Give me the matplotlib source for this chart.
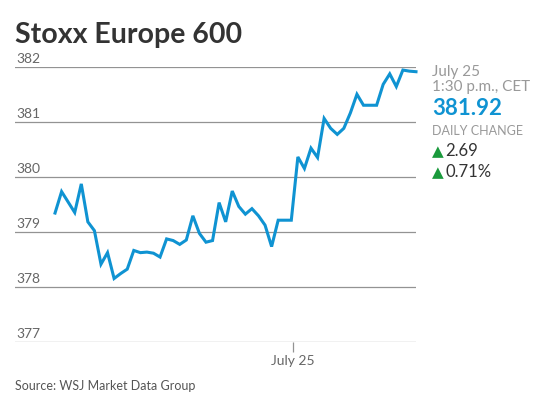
import numpy as np
import matplotlib
matplotlib.use('Agg')
import matplotlib.pyplot as plt
import matplotlib.transforms as mtransforms

plt.rcParams['font.family'] = ['Lato', 'DejaVu Sans']

# index values (intraday steps)
prices = [379.35, 379.74, 379.55, 379.36, 379.88, 379.19, 379.03, 378.42, 378.63, 378.16,
          378.25, 378.33, 378.67, 378.63, 378.64, 378.62, 378.55, 378.88, 378.85, 378.78,
          378.86, 379.30, 378.98, 378.82, 378.85, 379.54, 379.19, 379.75, 379.47, 379.33,
          379.43, 379.30, 379.13, 378.74, 379.22, 379.22, 379.22, 380.37, 380.16, 380.53,
          380.36, 381.07, 380.89, 380.78, 380.89, 381.17, 381.51, 381.31, 381.31, 381.31,
          381.69, 381.88, 381.65, 381.95, 381.93, 381.92]
steps = np.arange(len(prices))
yticks = [377, 378, 379, 380, 381, 382]
xtick_pos = [36.3]
xtick_labels = ['July 25']

blue = '#0f93d2'
grid_c = '#939393'

fig = plt.figure(figsize=(5.43, 3.99), dpi=100)
ax = fig.add_axes([15/543, 1-342.3/399, (416-15)/543, (342.3-67.3)/399])
ax.plot(steps, prices, color=blue, lw=2.2, solid_joinstyle='miter', clip_on=False, zorder=3)
ax.set_xlim(-6.1, 55)
ax.set_ylim(377, 382)

for v in yticks:
    ax.axhline(v, color=grid_c, lw=0.9, zorder=1)
trans = mtransforms.blended_transform_factory(ax.transAxes, ax.transData)
for v in yticks:
    ax.text(0.003, v + 0.04, str(v), transform=trans, ha='left', va='bottom',
            fontsize=10, color='#666666')

for s in ax.spines.values():
    s.set_visible(False)
ax.set_yticks([])
ax.set_xticks(xtick_pos)
ax.set_xticklabels(xtick_labels, fontsize=10, color='#666666')
ax.tick_params(axis='x', length=7, width=0.9, color=grid_c, pad=2)

fig.text(15/543, 1-43/399, 'Stoxx Europe 600', fontsize=20.5, fontweight='bold',
         color='#333333', ha='left', va='baseline')
fig.text(15/543, 1-390/399, 'Source: WSJ Market Data Group', fontsize=9,
         color='#555555', ha='left', va='baseline')

rx = 432/543
fig.text(rx, 1-76/399, 'July 25', fontsize=11, color='#999999', va='baseline')
fig.text(rx, 1-91/399, '1:30 p.m., CET', fontsize=11, color='#999999', va='baseline')
fig.text(rx, 1-115/399, '381.92', fontsize=16, color=blue, fontweight='bold', va='baseline')
fig.text(rx, 1-135/399, 'DAILY CHANGE', fontsize=9, color='#999999', va='baseline')
fig.text(rx, 1-156/399, '\u25b2', fontsize=11, color='#1a9a3c', va='baseline', family=['DejaVu Sans'])
fig.text(rx + 13/543, 1-156/399, '2.69', fontsize=12, color='#333333', va='baseline')
fig.text(rx, 1-177/399, '\u25b2', fontsize=11, color='#1a9a3c', va='baseline', family=['DejaVu Sans'])
fig.text(rx + 13/543, 1-177/399, '0.71%', fontsize=12, color='#333333', va='baseline')

fig.savefig('out.png', dpi=100)
